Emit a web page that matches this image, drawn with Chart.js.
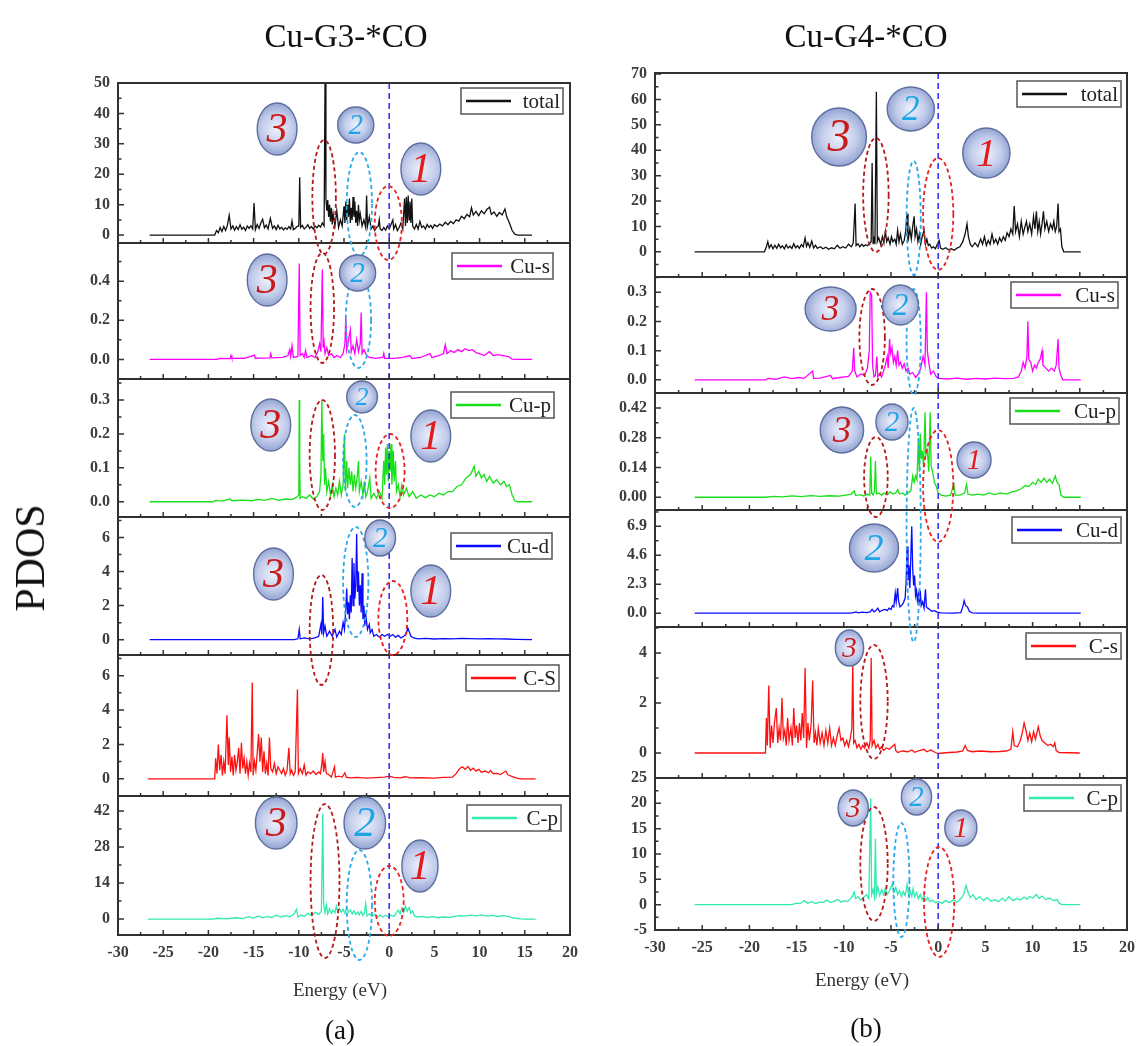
<!doctype html>
<html lang="en">
<head>
<meta charset="utf-8">
<title>PDOS Cu-G3-*CO / Cu-G4-*CO</title>
<script src="https://cdn.jsdelivr.net/npm/chart.js@4"></script>
<style>
  * { margin: 0; padding: 0; }
  body { width: 1143px; height: 1046px; background: #fff; position: relative; overflow: hidden;
         font-family: "Liberation Serif", serif; }
  canvas { position: absolute; top: 0; }
  #chartA { left: 0; }
  #chartB { left: 600px; }
  .txt { position: absolute; white-space: nowrap; transform: translate(-50%, -50%); color: #111; }
</style>
</head>
<body>
<canvas id="chartA" width="600" height="1046"></canvas>
<canvas id="chartB" width="543" height="1046"></canvas>

<div class="txt" style="left:346px; top:36px; font-size:33px;">Cu-G3-*CO</div>
<div class="txt" style="left:866px; top:36px; font-size:33px;">Cu-G4-*CO</div>
<div class="txt" style="left:30px; top:558px; font-size:42px; transform:translate(-50%,-50%) rotate(-90deg);">PDOS</div>
<div class="txt" style="left:340px; top:990px; font-size:19px; color:#333;">Energy (eV)</div>
<div class="txt" style="left:862px; top:980px; font-size:19px; color:#333;">Energy (eV)</div>
<div class="txt" style="left:340px; top:1030px; font-size:27px;">(a)</div>
<div class="txt" style="left:866px; top:1028px; font-size:27px;">(b)</div>

<script>
// ---------- data: [energy (eV), PDOS] ----------
const labelsA = ['total', 'Cu-s', 'Cu-p', 'Cu-d', 'C-S', 'C-p'];
const labelsB = ['total', 'Cu-s', 'Cu-p', 'Cu-d', 'C-s', 'C-p'];
const colors = ['#111111', '#ff00ff', '#18e018', '#0a0aff', '#ff1010', '#30eab0'];

const totalA = [[-26.5,0],[-19.3,0],[-19.1,1.5],[-18.9,0.8],[-18.7,2.5],[-18.5,1.2],[-18.3,2.8],[-18.1,1.5],[-17.9,3.2],[-17.7,6.5],[-17.5,2.0],[-17.3,3.0],[-17.1,1.6],[-16.9,2.8],[-16.7,1.8],[-16.5,3.4],[-16.3,1.9],[-16.1,2.6],[-15.9,1.5],[-15.7,3.0],[-15.5,2.2],[-15.3,3.1],[-15.1,2.0],[-14.95,10.5],[-14.8,1.8],[-14.6,3.5],[-14.4,2.2],[-14.2,4.0],[-14.0,5.2],[-13.8,2.4],[-13.6,3.3],[-13.4,2.0],[-13.15,5.5],[-12.9,2.2],[-12.7,3.0],[-12.5,1.8],[-12.3,3.2],[-12.1,2.0],[-11.9,2.6],[-11.7,1.7],[-11.5,2.4],[-11.3,1.9],[-11.1,2.8],[-10.9,2.0],[-10.75,4.6],[-10.6,1.8],[-10.4,2.2],[-10.2,2.8],[-10.0,3.0],[-9.9,19.0],[-9.8,2.5],[-9.6,3.2],[-9.4,2.0],[-9.2,2.6],[-9.0,3.4],[-8.8,2.2],[-8.6,2.8],[-8.4,2.0],[-8.2,3.0],[-8.0,2.4],[-7.8,3.2],[-7.6,2.6],[-7.4,4.0],[-7.2,3.0],[-7.1,50],[-7.0,12],[-6.9,8],[-6.8,11.5],[-6.7,6],[-6.6,10],[-6.5,4.5],[-6.4,9],[-6.3,3.5],[-6.2,7],[-6.0,3],[-5.8,8],[-5.6,2.5],[-5.4,5],[-5.2,3],[-5.0,9.5],[-4.9,4],[-4.8,11],[-4.7,5],[-4.6,10],[-4.5,6],[-4.4,12],[-4.3,4],[-4.2,9],[-4.1,5],[-4.0,12.5],[-3.9,6],[-3.8,11],[-3.7,4],[-3.6,8],[-3.5,3],[-3.4,10],[-3.3,5],[-3.2,7],[-3.0,3],[-2.8,5],[-2.6,2.5],[-2.5,13],[-2.4,3],[-2.2,6],[-2.0,2],[-1.8,3],[-1.6,1.5],[-1.4,2.5],[-1.2,3],[-1.1,5],[-1.0,2],[-0.8,1.5],[-0.6,2.5],[-0.4,1.6],[-0.2,3],[0,2],[0.2,3.5],[0.4,5],[0.5,2],[0.7,3.5],[0.9,1.5],[1.1,2.5],[1.3,4],[1.5,2],[1.7,12],[1.8,3],[1.9,12.5],[2.0,4],[2.1,13],[2.2,5],[2.3,11],[2.4,4],[2.5,12],[2.6,3],[2.8,2],[3.0,3.5],[3.2,2],[3.4,4.5],[3.6,2.5],[3.8,3],[4.0,2],[4.2,3.5],[4.4,2.5],[4.6,3.2],[4.8,2.2],[5.0,3.4],[5.3,2.8],[5.6,3.6],[5.9,3.0],[6.2,4.2],[6.5,3.4],[6.8,4.5],[7.1,3.8],[7.4,5.0],[7.7,4.6],[8.0,6.2],[8.3,5.4],[8.6,6.8],[8.9,6.0],[9.1,9.0],[9.3,6.6],[9.6,7.8],[9.9,6.4],[10.2,8.0],[10.5,7.0],[10.8,8.4],[11.1,9.2],[11.3,6.8],[11.6,7.6],[11.9,6.2],[12.2,7.4],[12.5,6.6],[12.8,8.6],[13.0,6.0],[13.3,4.0],[13.6,1.5],[13.9,0.3],[14.2,0],[15.8,0]];

const cusA = [[-26.5,0],[-19,0],[-18.8,0.005],[-17.6,0.004],[-17.5,0.02],[-17.4,0.005],[-16,0.006],[-14.9,0.022],[-14.8,0.006],[-13.2,0.008],[-13.1,0.03],[-13.0,0.008],[-11.8,0.01],[-11.2,0.02],[-11.0,0.05],[-10.9,0.015],[-10.75,0.07],[-10.6,0.01],[-10.1,0.015],[-9.95,0.49],[-9.85,0.02],[-9.6,0.03],[-9.4,0.01],[-9.25,0.045],[-9.1,0.01],[-8.6,0.02],[-8.2,0.01],[-7.9,0.04],[-7.7,0.08],[-7.55,0.04],[-7.4,0.46],[-7.3,0.06],[-7.2,0.09],[-7.1,0.03],[-6.9,0.06],[-6.7,0.02],[-6.4,0.03],[-6.1,0.01],[-5.8,0.02],[-5.4,0.01],[-5.1,0.03],[-4.9,0.08],[-4.8,0.22],[-4.7,0.05],[-4.5,0.1],[-4.3,0.15],[-4.2,0.04],[-4.0,0.07],[-3.8,0.03],[-3.6,0.1],[-3.4,0.04],[-3.2,0.08],[-3.1,0.24],[-3.0,0.03],[-2.8,0.05],[-2.5,0.02],[-2.2,0.01],[-1.5,0.005],[-0.7,0.01],[-0.6,0.03],[-0.5,0.005],[0.5,0.005],[1.5,0.01],[2.3,0.02],[2.5,0.005],[3.5,0.01],[4.5,0.03],[4.7,0.01],[5.5,0.02],[6.0,0.03],[6.2,0.075],[6.4,0.03],[6.8,0.045],[7.2,0.035],[7.6,0.05],[8.0,0.04],[8.4,0.055],[8.8,0.045],[9.2,0.05],[9.6,0.035],[10.0,0.03],[10.5,0.02],[11.1,0.04],[11.5,0.02],[12.0,0.025],[12.6,0.02],[13.2,0.015],[13.6,0.002],[14,0],[15.8,0]];

const cupA = [[-26.5,0],[-19.5,0],[-19.2,0.004],[-18.5,0.002],[-17.6,0.008],[-17.4,0.003],[-16.2,0.005],[-15.2,0.003],[-14.5,0.007],[-13.8,0.004],[-13.0,0.01],[-12.2,0.004],[-11.5,0.008],[-10.8,0.006],[-10.3,0.012],[-10.0,0.02],[-9.95,0.3],[-9.9,0.12],[-9.85,0.01],[-9.6,0.015],[-9.2,0.01],[-8.8,0.02],[-8.4,0.008],[-8.0,0.015],[-7.7,0.03],[-7.55,0.08],[-7.45,0.3],[-7.35,0.12],[-7.25,0.2],[-7.15,0.05],[-7.05,0.1],[-6.9,0.03],[-6.7,0.06],[-6.5,0.02],[-6.3,0.05],[-6.1,0.015],[-5.9,0.04],[-5.7,0.02],[-5.5,0.06],[-5.3,0.02],[-5.1,0.05],[-4.95,0.2],[-4.85,0.03],[-4.7,0.12],[-4.6,0.04],[-4.45,0.1],[-4.3,0.05],[-4.15,0.09],[-4.0,0.03],[-3.85,0.08],[-3.7,0.04],[-3.55,0.07],[-3.4,0.12],[-3.3,0.03],[-3.1,0.06],[-2.9,0.02],[-2.75,0.06],[-2.6,0.015],[-2.4,0.03],[-2.15,0.07],[-2.0,0.01],[-1.7,0.025],[-1.4,0.01],[-1.1,0.03],[-0.8,0.01],[-0.6,0.12],[-0.5,0.05],[-0.4,0.16],[-0.3,0.08],[-0.2,0.17],[-0.1,0.06],[0,0.15],[0.1,0.09],[0.2,0.17],[0.3,0.05],[0.45,0.15],[0.55,0.06],[0.7,0.12],[0.8,0.03],[1.0,0.05],[1.2,0.015],[1.4,0.05],[1.6,0.02],[1.9,0.04],[2.2,0.015],[2.6,0.03],[3.0,0.01],[3.5,0.02],[4.0,0.012],[4.5,0.02],[5.0,0.015],[5.5,0.025],[6.0,0.02],[6.5,0.03],[7.0,0.03],[7.5,0.045],[8.0,0.05],[8.5,0.07],[9.0,0.08],[9.4,0.105],[9.6,0.075],[9.9,0.09],[10.2,0.07],[10.5,0.08],[10.8,0.06],[11.1,0.075],[11.5,0.055],[11.9,0.065],[12.3,0.05],[12.7,0.06],[13.0,0.045],[13.3,0.05],[13.6,0.02],[13.9,0.002],[14.2,0],[15.8,0]];

const cudA = [[-26.5,0],[-10.5,0],[-10.1,0.05],[-9.95,0.6],[-9.85,0.05],[-9.4,0.1],[-8.8,0.05],[-8.2,0.1],[-7.8,0.2],[-7.55,0.9],[-7.45,0.3],[-7.35,2.5],[-7.25,0.4],[-7.1,0.8],[-6.9,0.2],[-6.6,0.5],[-6.3,0.2],[-6.0,0.6],[-5.8,0.15],[-5.5,0.5],[-5.3,0.3],[-5.1,1.0],[-4.95,0.6],[-4.8,1.8],[-4.7,3.0],[-4.6,1.5],[-4.5,2.2],[-4.4,1.2],[-4.3,2.6],[-4.2,1.6],[-4.1,4.8],[-4.0,2.0],[-3.9,4.5],[-3.8,2.4],[-3.7,3.2],[-3.6,6.2],[-3.5,2.8],[-3.4,4.0],[-3.3,2.0],[-3.2,3.2],[-3.1,1.6],[-3.0,3.9],[-2.9,1.2],[-2.8,2.0],[-2.7,0.8],[-2.6,1.5],[-2.4,0.6],[-2.2,0.9],[-2.1,0.4],[-1.9,0.6],[-1.7,0.2],[-1.4,0.3],[-1.1,0.15],[-0.8,0.3],[-0.5,0.2],[-0.2,0.3],[0.1,0.2],[0.4,0.3],[0.7,0.15],[1.0,0.25],[1.3,0.1],[1.6,0.2],[1.9,0.35],[2.05,0.7],[2.2,0.5],[2.4,0.2],[2.7,0.1],[3.2,0.05],[4,0.08],[5,0.04],[6,0.06],[7,0.05],[8,0.07],[9,0.06],[10,0.05],[11,0.06],[12,0.05],[13,0.04],[14,0.02],[15.8,0]];

const csA = [[-26.7,0],[-19.3,0],[-19.2,1.2],[-19.05,0.3],[-18.9,2.0],[-18.75,0.5],[-18.6,1.4],[-18.45,0.2],[-18.3,1.0],[-18.15,0.3],[-17.95,3.7],[-17.8,0.8],[-17.7,2.4],[-17.55,0.4],[-17.4,1.3],[-17.25,0.2],[-17.1,1.4],[-16.95,0.5],[-16.8,1.0],[-16.65,1.8],[-16.5,0.3],[-16.35,2.1],[-16.2,0.6],[-16.05,1.2],[-15.9,0.3],[-15.75,1.0],[-15.6,0.2],[-15.45,0.9],[-15.3,0.4],[-15.15,5.6],[-15.05,0.2],[-14.9,1.0],[-14.75,0.5],[-14.6,1.5],[-14.45,2.6],[-14.3,1.0],[-14.15,2.4],[-14.0,0.4],[-13.85,1.6],[-13.7,0.3],[-13.55,0.9],[-13.4,0.2],[-13.25,2.4],[-13.1,0.6],[-12.9,0.4],[-12.7,0.9],[-12.5,0.3],[-12.3,0.7],[-12.1,0.5],[-11.9,0.3],[-11.7,0.6],[-11.5,0.2],[-11.3,0.5],[-11.1,1.8],[-10.95,0.3],[-10.8,0.5],[-10.6,0.2],[-10.4,0.4],[-10.15,5.2],[-10.05,0.3],[-9.85,0.6],[-9.6,0.3],[-9.4,0.8],[-9.2,0.2],[-9.0,0.4],[-8.7,0.3],[-8.4,0.45],[-8.1,0.25],[-7.8,0.4],[-7.6,0.3],[-7.45,0.9],[-7.35,1.5],[-7.25,0.4],[-7.1,1.0],[-6.95,0.3],[-6.7,0.25],[-6.4,0.1],[-6.05,0.7],[-5.95,0.1],[-5.6,0.15],[-5.2,0.1],[-4.9,0.35],[-4.75,0.1],[-4.3,0.05],[-3.5,0.08],[-2.5,0.04],[-1.5,0.07],[-0.5,0.1],[0,0.15],[0.5,0.08],[1.2,0.05],[1.8,0.12],[2.3,0.05],[3.5,0.06],[5,0.04],[6,0.08],[7,0.1],[7.4,0.3],[7.8,0.6],[8.1,0.7],[8.4,0.55],[8.7,0.72],[9.0,0.5],[9.3,0.62],[9.6,0.45],[9.9,0.55],[10.2,0.38],[10.6,0.45],[11.0,0.35],[11.2,0.48],[11.5,0.3],[11.9,0.32],[12.3,0.25],[12.7,0.38],[12.9,0.45],[13.1,0.25],[13.5,0.15],[14,0.05],[14.5,0],[16.2,0]];

const cpA = [[-26.7,0],[-19.5,0],[-19.0,0.3],[-18,0.1],[-17,0.5],[-16.2,0.2],[-15.5,0.9],[-15.0,0.4],[-14.5,1.2],[-14,0.5],[-13.5,1.0],[-13,0.6],[-12.5,1.5],[-12,0.8],[-11.5,1.3],[-11,0.9],[-10.5,2.0],[-10.25,3.8],[-10.1,0.8],[-9.8,1.6],[-9.4,1.0],[-9.0,2.2],[-8.6,1.4],[-8.2,2.6],[-7.8,1.8],[-7.5,3.0],[-7.35,41],[-7.25,6],[-7.1,2.5],[-6.95,5.5],[-6.8,2],[-6.6,4],[-6.4,2.2],[-6.2,3.5],[-6.0,2.4],[-5.85,5],[-5.7,2.8],[-5.5,4.2],[-5.3,2.6],[-5.1,3.8],[-4.9,2.2],[-4.7,4.4],[-4.5,2.6],[-4.3,3.6],[-4.1,2.0],[-3.9,3.2],[-3.7,1.8],[-3.5,2.8],[-3.3,1.6],[-3.1,3.0],[-2.9,1.4],[-2.75,2.4],[-2.6,6],[-2.45,1.2],[-2.2,2.0],[-1.9,1.0],[-1.6,1.8],[-1.3,0.9],[-1.0,1.6],[-0.7,0.8],[-0.4,1.5],[-0.1,0.9],[0.2,1.6],[0.5,1.0],[0.8,2.4],[1.0,3.5],[1.2,2.0],[1.4,4.2],[1.6,2.5],[1.8,5],[2.0,3],[2.2,4.5],[2.4,2.2],[2.6,3.2],[2.8,1.2],[3.1,0.8],[3.6,1.0],[4.2,0.6],[4.8,0.9],[5.4,0.5],[6.0,0.8],[6.6,0.6],[7.2,1.0],[7.8,1.3],[8.4,1.1],[9.0,1.5],[9.6,1.2],[10.2,1.6],[10.8,1.1],[11.4,1.4],[12.0,1.0],[12.6,1.3],[13.2,0.9],[13.8,0.4],[14.5,0.1],[15,0],[16.2,0]];

const totalB = [[-25.8,0],[-18.4,0],[-18.2,2],[-18.05,4],[-17.9,1.5],[-17.7,2.8],[-17.5,1.2],[-17.3,2.6],[-17.1,1.4],[-16.9,3.0],[-16.7,1.6],[-16.5,2.4],[-16.3,1.2],[-16.1,2.8],[-15.9,1.5],[-15.7,2.2],[-15.5,1.3],[-15.3,3.2],[-15.1,1.6],[-14.9,2.4],[-14.7,1.4],[-14.5,2.8],[-14.3,2.0],[-14.1,5.5],[-13.95,2.2],[-13.8,3.6],[-13.6,1.8],[-13.4,4.2],[-13.2,1.5],[-13.0,2.6],[-12.8,1.4],[-12.5,2.0],[-12.2,1.2],[-11.9,1.8],[-11.6,1.0],[-11.3,1.6],[-11.0,1.2],[-10.7,2.6],[-10.4,1.4],[-10.1,2.0],[-9.8,1.5],[-9.5,3.0],[-9.2,2.0],[-9.0,3.5],[-8.8,19],[-8.7,2.5],[-8.5,3.2],[-8.3,2.0],[-8.1,3.0],[-7.9,2.2],[-7.7,2.8],[-7.5,2.4],[-7.3,3.2],[-7.1,4],[-7.0,35],[-6.9,3],[-6.8,5],[-6.7,3],[-6.55,63],[-6.45,4],[-6.3,5.5],[-6.1,3],[-5.9,6],[-5.75,3.5],[-5.6,8],[-5.45,4],[-5.3,5.5],[-5.1,3],[-4.95,6],[-4.8,4],[-4.6,5],[-4.45,3],[-4.3,8.5],[-4.15,4],[-4.0,7],[-3.8,3],[-3.6,4.5],[-3.45,8],[-3.3,15],[-3.2,4],[-3.0,9],[-2.85,5],[-2.7,10],[-2.55,14],[-2.45,6],[-2.3,9],[-2.15,4],[-2.0,7],[-1.85,3],[-1.7,6],[-1.5,8.5],[-1.35,3],[-1.2,5],[-1.05,2.5],[-0.9,3],[-0.7,1.5],[-0.5,2],[-0.3,1.2],[-0.1,3],[0.1,4.5],[0.25,1.5],[0.5,1.0],[0.8,1.6],[1.1,0.8],[1.4,1.2],[1.7,0.6],[2.0,1.5],[2.3,2],[2.6,4],[2.85,7],[3.05,11],[3.2,6],[3.4,3],[3.6,2],[3.9,3.5],[4.2,2],[4.5,5],[4.7,3],[4.9,6],[5.1,2.5],[5.3,4.5],[5.5,3],[5.7,7],[5.9,3.5],[6.1,5],[6.3,3],[6.5,5.5],[6.7,4],[6.9,6],[7.1,4.5],[7.3,7.5],[7.5,6],[7.7,9],[7.9,7],[8.05,18],[8.2,8],[8.4,11],[8.6,6],[8.8,12],[9.0,7],[9.2,10],[9.35,12],[9.5,8],[9.7,11],[9.9,7],[10.1,14],[10.25,9],[10.4,16],[10.55,8],[10.7,12],[10.85,7],[11.0,11],[11.15,16],[11.3,9],[11.5,12],[11.7,8],[11.9,11],[12.1,9],[12.25,12],[12.4,8],[12.55,10],[12.7,19],[12.8,8],[12.95,9],[13.1,2],[13.3,0],[15.1,0]];

const cusB = [[-25.8,0],[-18.3,0],[-18.0,0.005],[-17.2,0.002],[-16.3,0.01],[-15.5,0.004],[-14.8,0.008],[-14.2,0.005],[-13.3,0.03],[-13.2,0.005],[-12.5,0.006],[-11.4,0.015],[-11.2,0.004],[-10.4,0.008],[-9.5,0.012],[-9.1,0.03],[-8.95,0.11],[-8.85,0.03],[-8.6,0.01],[-8.2,0.02],[-7.8,0.015],[-7.5,0.04],[-7.3,0.1],[-7.2,0.3],[-7.05,0.29],[-6.95,0.05],[-6.8,0.01],[-6.65,0.015],[-6.5,0.08],[-6.4,0.01],[-6.2,0.02],[-6.0,0.01],[-5.8,0.03],[-5.6,0.05],[-5.4,0.08],[-5.3,0.04],[-5.15,0.14],[-5.05,0.09],[-4.9,0.11],[-4.75,0.06],[-4.6,0.08],[-4.45,0.05],[-4.3,0.1],[-4.15,0.05],[-4.0,0.06],[-3.8,0.04],[-3.6,0.055],[-3.4,0.03],[-3.2,0.04],[-3.0,0.02],[-2.7,0.025],[-2.4,0.008],[-2.1,0.02],[-1.85,0.04],[-1.6,0.08],[-1.4,0.05],[-1.25,0.3],[-1.15,0.1],[-1.0,0.06],[-0.8,0.02],[-0.5,0.03],[-0.2,0.01],[0.1,0.005],[1,0.003],[2,0.006],[3,0.002],[4,0.005],[5,0.003],[6,0.006],[7,0.004],[8,0.005],[8.5,0.01],[8.8,0.03],[9.0,0.06],[9.2,0.04],[9.4,0.08],[9.5,0.2],[9.6,0.07],[9.8,0.06],[10.0,0.03],[10.2,0.05],[10.4,0.04],[10.6,0.06],[10.8,0.07],[11.0,0.1],[11.1,0.05],[11.4,0.04],[11.7,0.03],[12.0,0.04],[12.3,0.03],[12.5,0.05],[12.7,0.14],[12.8,0.04],[12.95,0.02],[13.2,0],[15.1,0]];

const cupB = [[-25.8,0],[-18.3,0],[-17.5,0.004],[-16.5,0.002],[-15.5,0.006],[-14.5,0.003],[-13.5,0.008],[-12.5,0.004],[-11.5,0.007],[-10.5,0.005],[-9.8,0.01],[-9.2,0.015],[-8.9,0.03],[-8.75,0.008],[-8.3,0.012],[-7.9,0.006],[-7.5,0.015],[-7.25,0.01],[-7.15,0.19],[-7.05,0.02],[-6.9,0.01],[-6.75,0.03],[-6.65,0.17],[-6.55,0.015],[-6.3,0.02],[-6.0,0.01],[-5.7,0.02],[-5.4,0.012],[-5.1,0.025],[-4.8,0.015],[-4.5,0.02],[-4.3,0.035],[-4.1,0.015],[-3.8,0.02],[-3.5,0.01],[-3.2,0.02],[-2.9,0.03],[-2.7,0.1],[-2.55,0.07],[-2.4,0.1],[-2.25,0.08],[-2.1,0.28],[-2.0,0.12],[-1.9,0.3],[-1.8,0.18],[-1.7,0.22],[-1.55,0.14],[-1.4,0.4],[-1.3,0.2],[-1.15,0.22],[-1.0,0.12],[-0.85,0.4],[-0.75,0.15],[-0.6,0.12],[-0.4,0.07],[-0.2,0.05],[0,0.02],[0.3,0.01],[0.8,0.005],[1.3,0.01],[1.65,0.06],[1.8,0.01],[2.3,0.01],[2.8,0.02],[3.0,0.06],[3.15,0.015],[3.6,0.01],[4.2,0.015],[4.8,0.01],[5.4,0.02],[6.0,0.012],[6.6,0.02],[7.2,0.015],[7.8,0.025],[8.3,0.03],[8.8,0.04],[9.2,0.055],[9.6,0.05],[10.0,0.07],[10.3,0.06],[10.6,0.085],[10.9,0.07],[11.2,0.09],[11.5,0.07],[11.8,0.085],[12.1,0.065],[12.4,0.1],[12.6,0.07],[12.8,0.06],[13.0,0.01],[13.3,0],[15.1,0]];

const cudB = [[-25.8,0],[-9.3,0],[-9.0,0.05],[-8.7,0.1],[-8.5,0.02],[-8.0,0.08],[-7.6,0.05],[-7.2,0.1],[-7.0,0.3],[-6.8,0.1],[-6.6,0.2],[-6.4,0.4],[-6.2,0.1],[-5.9,0.25],[-5.6,0.3],[-5.4,0.2],[-5.2,0.4],[-5.0,0.3],[-4.85,0.6],[-4.7,0.5],[-4.55,1.6],[-4.45,0.9],[-4.3,2.0],[-4.2,1.0],[-4.05,0.5],[-3.9,0.6],[-3.7,0.8],[-3.5,1.2],[-3.4,2.5],[-3.3,5.3],[-3.2,2.6],[-3.1,3.8],[-3.0,2.0],[-2.9,4.5],[-2.8,6.9],[-2.7,3.5],[-2.6,2.2],[-2.5,3.0],[-2.4,1.4],[-2.3,1.8],[-2.2,1.0],[-2.1,1.5],[-2.0,0.7],[-1.9,1.8],[-1.8,0.6],[-1.65,0.9],[-1.5,0.4],[-1.35,1.9],[-1.25,0.5],[-1.1,0.4],[-0.9,0.3],[-0.7,0.15],[-0.4,0.2],[-0.1,0.08],[0.3,0.02],[1.5,0],[2.4,0.05],[2.6,0.5],[2.75,1.0],[2.9,0.6],[3.1,0.5],[3.3,0.15],[3.6,0.03],[4.2,0],[15.1,0]];

const csB = [[-25.8,0],[-18.3,0],[-18.2,1.4],[-18.1,0.3],[-17.95,2.7],[-17.8,0.2],[-17.65,1.1],[-17.5,0.4],[-17.35,1.2],[-17.15,1.8],[-17.0,0.4],[-16.85,1.0],[-16.7,0.5],[-16.55,2.2],[-16.4,0.6],[-16.25,0.9],[-16.1,0.3],[-15.95,1.4],[-15.8,0.5],[-15.6,1.0],[-15.45,0.3],[-15.3,1.8],[-15.15,0.6],[-15.0,1.1],[-14.85,0.4],[-14.7,1.2],[-14.55,0.5],[-14.4,1.6],[-14.25,0.6],[-14.1,3.4],[-13.95,0.2],[-13.8,1.2],[-13.65,0.5],[-13.45,1.2],[-13.3,2.9],[-13.15,0.4],[-13.0,0.8],[-12.85,0.3],[-12.7,1.0],[-12.5,0.4],[-12.3,0.8],[-12.1,0.3],[-11.9,0.9],[-11.7,0.4],[-11.5,1.0],[-11.3,0.3],[-11.1,0.6],[-10.9,0.3],[-10.7,0.7],[-10.5,1.0],[-10.3,0.5],[-10.1,0.6],[-9.9,0.3],[-9.7,0.5],[-9.5,0.25],[-9.3,0.6],[-9.15,1.0],[-9.05,3.6],[-8.95,0.4],[-8.8,0.5],[-8.6,0.2],[-8.4,0.35],[-8.2,0.15],[-8.0,0.3],[-7.8,0.2],[-7.55,0.4],[-7.35,0.2],[-7.2,0.5],[-7.1,3.8],[-7.0,0.3],[-6.8,0.5],[-6.6,0.2],[-6.4,0.35],[-6.2,0.15],[-6.0,0.25],[-5.8,0.1],[-5.5,0.2],[-5.2,0.15],[-4.9,0.25],[-4.6,0.35],[-4.5,0.1],[-4.3,0.02],[-3.8,0.08],[-3.2,0.05],[-2.8,0.12],[-2.5,0.03],[-2.0,0.1],[-1.5,0.15],[-1.2,0.05],[-0.8,0.12],[-0.3,0.02],[0,-0.02],[0.5,0],[1.2,0.02],[2.0,0.04],[2.6,0.08],[2.85,0.3],[3.1,0.1],[3.6,0.05],[4.5,0.08],[5.5,0.05],[6.5,0.06],[7.2,0.08],[7.7,0.15],[7.9,0.85],[8.05,0.3],[8.4,0.25],[8.7,0.5],[8.9,0.8],[9.1,1.2],[9.3,0.9],[9.5,0.5],[9.7,0.8],[9.9,0.45],[10.1,0.85],[10.3,0.55],[10.6,1.05],[10.8,0.7],[11.0,0.5],[11.3,0.4],[11.6,0.3],[11.9,0.35],[12.2,0.25],[12.35,0.4],[12.5,0.1],[12.8,0.02],[15,0]];

const cpB = [[-25.8,0],[-15.5,0],[-15.0,0.3],[-14.6,0.2],[-14.2,0.8],[-13.8,0.3],[-13.4,0.6],[-13,0.2],[-12.6,0.5],[-12.2,0.4],[-11.8,0.9],[-11.4,0.4],[-11,0.7],[-10.6,1.0],[-10.3,0.5],[-10,0.8],[-9.6,0.6],[-9.3,1.2],[-9.1,1.6],[-8.9,2.5],[-8.75,1.2],[-8.5,1.6],[-8.2,0.9],[-7.9,1.4],[-7.6,2.0],[-7.35,1.2],[-7.15,21],[-7.05,2],[-6.9,3],[-6.75,1.5],[-6.65,13],[-6.55,2],[-6.4,3.5],[-6.2,1.8],[-6.0,3],[-5.8,2.0],[-5.6,3.2],[-5.4,2],[-5.2,2.6],[-5.0,3.5],[-4.85,4.2],[-4.7,2.4],[-4.5,3.4],[-4.3,2],[-4.1,2.8],[-3.9,1.6],[-3.7,2.6],[-3.5,1.8],[-3.3,4],[-3.15,2],[-3.0,2.8],[-2.8,1.6],[-2.65,3.2],[-2.5,1.6],[-2.3,2.4],[-2.1,1.2],[-1.9,2],[-1.7,1.0],[-1.5,1.8],[-1.3,0.8],[-1.1,1.4],[-0.9,0.6],[-0.6,0.9],[-0.3,0.4],[0,0.6],[0.4,0.3],[0.8,0.8],[1.2,0.4],[1.6,1.0],[2.0,0.5],[2.4,1.2],[2.7,2.0],[2.95,3.8],[3.15,2.5],[3.4,1.4],[3.7,2.0],[4.0,1.0],[4.4,1.6],[4.8,0.8],[5.2,1.4],[5.6,0.7],[6.0,1.0],[6.4,0.6],[6.8,1.3],[7.1,0.7],[7.5,1.6],[7.9,0.8],[8.3,1.2],[8.7,0.9],[9.1,1.5],[9.4,1.1],[9.7,1.6],[10.0,1.3],[10.4,2.0],[10.7,1.2],[11.0,1.7],[11.4,1.0],[11.8,1.3],[12.2,0.8],[12.6,1.0],[12.8,0.3],[13.1,0],[15,0]];

const seriesA = [totalA, cusA, cupA, cudA, csA, cpA];
const seriesB = [totalB, cusB, cupB, cudB, csB, cpB];

// y ranges and tick steps, top panel first
const yMinA = [-2.6, -0.1, -0.045, -0.9, -1.0, -6.2];
const yMaxA = [50, 0.595, 0.362, 7.2, 7.2, 47.8];
const yStepA = [10, 0.2, 0.1, 2, 2, 14];
const yDecA = [0, 1, 1, 0, 0, 0];

const yMinB = [-9.9, -0.045, -0.06, -1.1, -1.0, -5];
const yMaxB = [70.4, 0.352, 0.49, 8.2, 5.04, 25];
const yStepB = [10, 0.1, 0.14, 2.3, 2, 5];
const yDecB = [0, 1, 2, 1, 0, 0];

// ---------- layout ----------
const panelPx = {
  A: [160, 136, 138, 138, 141, 139],
  B: [204, 116, 117, 117, 151, 152]
};
const legendA = [[7, 5, 102], [17, 10, 101], [16, 13, 103], [18, 16, 101], [11, 10, 93], [9, 9, 94]];
const legendB = [[6, 8, 104], [9, 5, 107], [8, 5, 109], [6, 7, 109], [6, 6, 95], [6, 7, 97]];

// annotations: e = energy centre, y = page y, rx in eV, ry in px
const ringsA = [
  {e:-7.2, y:197, rx:1.3, ry:57, c:'dr'}, {e:-3.3, y:204, rx:1.4, ry:52, c:'b'}, {e:-0.1, y:223, rx:1.5, ry:37, c:'r'},
  {e:-7.4, y:308, rx:1.3, ry:55, c:'dr'}, {e:-3.4, y:320, rx:1.4, ry:48, c:'b'},
  {e:-7.4, y:455, rx:1.4, ry:55, c:'dr'}, {e:-3.8, y:461, rx:1.3, ry:46, c:'b'}, {e:0.1, y:471, rx:1.6, ry:37, c:'r'},
  {e:-7.5, y:630, rx:1.3, ry:55, c:'dr'}, {e:-3.7, y:582, rx:1.4, ry:55, c:'b'}, {e:0.4, y:618, rx:1.6, ry:37, c:'r'},
  {e:-7.1, y:881, rx:1.6, ry:77, c:'dr'}, {e:-3.3, y:905, rx:1.4, ry:55, c:'b'}, {e:0, y:901, rx:1.6, ry:35, c:'r'}
];
const badgesA = [
  {e:-12.4, y:129, rx:2.2, ry:26, n:'3'}, {e:-3.7, y:125, rx:2.0, ry:18, n:'2'}, {e:3.5, y:169, rx:2.2, ry:26, n:'1'},
  {e:-13.5, y:280, rx:2.2, ry:26, n:'3'}, {e:-3.5, y:273, rx:2.0, ry:18, n:'2'},
  {e:-13.1, y:425, rx:2.2, ry:26, n:'3'}, {e:-3.0, y:397, rx:1.7, ry:16, n:'2'}, {e:4.6, y:436, rx:2.2, ry:26, n:'1'},
  {e:-12.8, y:574, rx:2.2, ry:26, n:'3'}, {e:-1.0, y:538, rx:1.7, ry:18, n:'2'}, {e:4.6, y:591, rx:2.2, ry:26, n:'1'},
  {e:-12.5, y:823, rx:2.3, ry:26, n:'3'}, {e:-2.7, y:823, rx:2.3, ry:26, n:'2'}, {e:3.4, y:866, rx:2.0, ry:26, n:'1'}
];
const ringsB = [
  {e:-6.6, y:195, rx:1.35, ry:57, c:'dr'}, {e:-2.6, y:218, rx:0.75, ry:57, c:'b'}, {e:0, y:214, rx:1.6, ry:56, c:'r'},
  {e:-7.0, y:337, rx:1.35, ry:48, c:'dr'}, {e:-2.6, y:342, rx:0.75, ry:53, c:'b'},
  {e:-6.6, y:477, rx:1.25, ry:40, c:'dr'}, {e:-2.6, y:525, rx:0.75, ry:117, c:'b'}, {e:0, y:486, rx:1.6, ry:56, c:'r'},
  {e:-6.8, y:702, rx:1.45, ry:57, c:'dr'},
  {e:-6.8, y:864, rx:1.45, ry:57, c:'dr'}, {e:-3.9, y:880, rx:0.85, ry:57, c:'b'}, {e:0.1, y:902, rx:1.6, ry:55, c:'r'}
];
const badgesB = [
  {e:-10.5, y:137, rx:2.9, ry:29, n:'3'}, {e:-2.9, y:109, rx:2.5, ry:22, n:'2'}, {e:5.1, y:153, rx:2.5, ry:25, n:'1'},
  {e:-11.4, y:309, rx:2.7, ry:22, n:'3'}, {e:-4.0, y:305, rx:1.9, ry:20, n:'2'},
  {e:-10.2, y:430, rx:2.3, ry:23, n:'3'}, {e:-4.9, y:422, rx:1.7, ry:18, n:'2'}, {e:3.8, y:460, rx:1.8, ry:18, n:'1'},
  {e:-6.8, y:548, rx:2.6, ry:24, n:'2'},
  {e:-9.4, y:648, rx:1.5, ry:18, n:'3'},
  {e:-9.0, y:808, rx:1.6, ry:18, n:'3'}, {e:-2.3, y:797, rx:1.6, ry:18, n:'2'}, {e:2.4, y:828, rx:1.7, ry:18, n:'1'}
];

const SERIF = "'Liberation Serif', 'Times New Roman', serif";
Chart.defaults.font.family = SERIF;

const ringColor = { dr: '#b51a1a', r: '#e82222', b: '#2ba9ea' };
const numColor = { '1': '#e21c1c', '2': '#1fa4e8', '3': '#c81b1b' };

const pdosDecor = {
  id: 'pdosDecor',
  afterDatasetsDraw(chart, args, opts) {
    const { ctx, chartArea: a, scales } = chart;
    const xs = scales.x;
    ctx.save();
    // fermi level
    const x0 = xs.getPixelForValue(0);
    ctx.strokeStyle = '#3535ff';
    ctx.lineWidth = 1.6;
    ctx.setLineDash([6, 4]);
    ctx.beginPath(); ctx.moveTo(x0, a.top); ctx.lineTo(x0, a.bottom); ctx.stroke();
    ctx.setLineDash([]);

    opts.labels.forEach((lab, i) => {
      const ys = scales['y' + i];
      const top = ys.top, bot = ys.bottom;
      // inward ticks on the left
      ctx.strokeStyle = '#333';
      ctx.lineWidth = 1.5;
      const step = ys.options.ticks.stepSize;
      ctx.beginPath();
      ys.ticks.forEach(t => {
        const y = ys.getPixelForValue(t.value);
        ctx.moveTo(a.left, y); ctx.lineTo(a.left + 6, y);
      });
      let v = ys.ticks[0].value - step / 2;
      while (v - step >= ys.min) v -= step;
      for (; v <= ys.max; v += step) {
        if (v < ys.min) continue;
        const y = ys.getPixelForValue(v);
        ctx.moveTo(a.left, y); ctx.lineTo(a.left + 3.5, y);
      }
      // ticks on the bottom edge of every panel
      for (let e = -30; e <= 20; e += 2.5) {
        const x = xs.getPixelForValue(e);
        const len = (Math.abs(e % 5) < 1e-6) ? 5 : 3;
        ctx.moveTo(x, bot); ctx.lineTo(x, bot - len);
      }
      ctx.stroke();
      // frame
      ctx.lineWidth = 2;
      ctx.strokeStyle = '#303030';
      ctx.strokeRect(a.left, top, a.right - a.left, bot - top);

      // legend box
      const [gap, off, w] = opts.legend[i];
      const h = 26;
      const bx = a.right - gap - w, by = top + off;
      ctx.fillStyle = '#fff';
      ctx.fillRect(bx, by, w, h);
      ctx.lineWidth = 1.5;
      ctx.strokeStyle = '#555';
      ctx.strokeRect(bx, by, w, h);
      ctx.strokeStyle = colors[i];
      ctx.lineWidth = 2.5;
      ctx.beginPath(); ctx.moveTo(bx + 5, by + h / 2); ctx.lineTo(bx + 50, by + h / 2); ctx.stroke();
      ctx.fillStyle = '#222';
      ctx.font = '21px ' + SERIF;
      ctx.textAlign = 'right';
      ctx.textBaseline = 'middle';
      ctx.fillText(lab, bx + w - 3, by + h / 2 + 1);
    });
    ctx.restore();
  },
  afterDraw(chart, args, opts) {
    const { ctx, scales } = chart;
    const xs = scales.x;
    const px = xs.getPixelForValue(1) - xs.getPixelForValue(0);
    ctx.save();
    ctx.setLineDash([4, 3]);
    ctx.lineWidth = 1.8;
    opts.rings.forEach(r => {
      ctx.strokeStyle = ringColor[r.c];
      ctx.beginPath();
      ctx.ellipse(xs.getPixelForValue(r.e), r.y, r.rx * px, r.ry, 0, 0, Math.PI * 2);
      ctx.stroke();
    });
    ctx.setLineDash([]);
    opts.badges.forEach(b => {
      const cx = xs.getPixelForValue(b.e), rx = b.rx * px;
      const g = ctx.createRadialGradient(cx, b.y, 0, cx, b.y, Math.max(rx, b.ry));
      g.addColorStop(0, '#eef1fb');
      g.addColorStop(0.6, '#c3cdeb');
      g.addColorStop(1, '#93a4d2');
      ctx.fillStyle = g;
      ctx.beginPath();
      ctx.ellipse(cx, b.y, rx, b.ry, 0, 0, Math.PI * 2);
      ctx.fill();
      ctx.lineWidth = 1.4;
      ctx.strokeStyle = '#5d6e9e';
      ctx.stroke();
      ctx.fillStyle = numColor[b.n];
      ctx.font = 'italic ' + Math.round(b.ry * 1.6) + 'px ' + SERIF;
      ctx.textAlign = 'center';
      ctx.textBaseline = 'middle';
      ctx.fillText(b.n, cx, b.y + b.ry * 0.08);
    });
    ctx.restore();
  }
};

function buildChart(id, labels, series, yMin, yMax, yStep, yDec, weights, legend, rings, badges, pad) {
  const tickFont = { family: SERIF, size: 16, weight: 'bold' };
  const scales = {
    x: {
      type: 'linear', position: 'bottom', min: -30, max: 20,
      grid: { display: false, drawTicks: false }, border: { display: false },
      ticks: { stepSize: 5, autoSkip: false, maxRotation: 0, includeBounds: false, padding: 8,
               color: '#3d3d3d', font: tickFont },
      afterFit: s => { s.height = 35; }
    }
  };
  // bottom panel first: the layout puts the last stacked axis on top
  for (let i = labels.length - 1; i >= 0; i--) {
    scales['y' + i] = {
      type: 'linear', position: 'left', stack: 'col', stackWeight: weights[i],
      min: yMin[i], max: yMax[i],
      grid: { display: false, drawTicks: false }, border: { display: false },
      ticks: {
        stepSize: yStep[i], includeBounds: false, autoSkip: false, padding: 8,
        color: '#3d3d3d', font: tickFont,
        callback: v => Number(v).toFixed(yDec[i])
      },
      afterFit: s => { s.width = 40; }
    };
  }
  const datasets = series.map((d, i) => ({
    label: labels[i], data: d, xAxisID: 'x', yAxisID: 'y' + i,
    borderColor: colors[i], borderWidth: 1.3, pointRadius: 0, tension: 0, fill: false
  }));
  return new Chart(document.getElementById(id), {
    type: 'line',
    data: { datasets },
    options: {
      responsive: false, animation: false,
      layout: { padding: pad },
      plugins: {
        legend: { display: false }, tooltip: { enabled: false },
        pdosDecor: { labels, legend, rings, badges }
      },
      scales
    },
    plugins: [pdosDecor]
  });
}

buildChart('chartA', labelsA, seriesA, yMinA, yMaxA, yStepA, yDecA, panelPx.A, legendA, ringsA, badgesA,
  { left: 78, right: 30, top: 83, bottom: 76 });
buildChart('chartB', labelsB, seriesB, yMinB, yMaxB, yStepB, yDecB, panelPx.B, legendB, ringsB, badgesB,
  { left: 15, right: 16, top: 73, bottom: 81 });
</script>
</body>
</html>
